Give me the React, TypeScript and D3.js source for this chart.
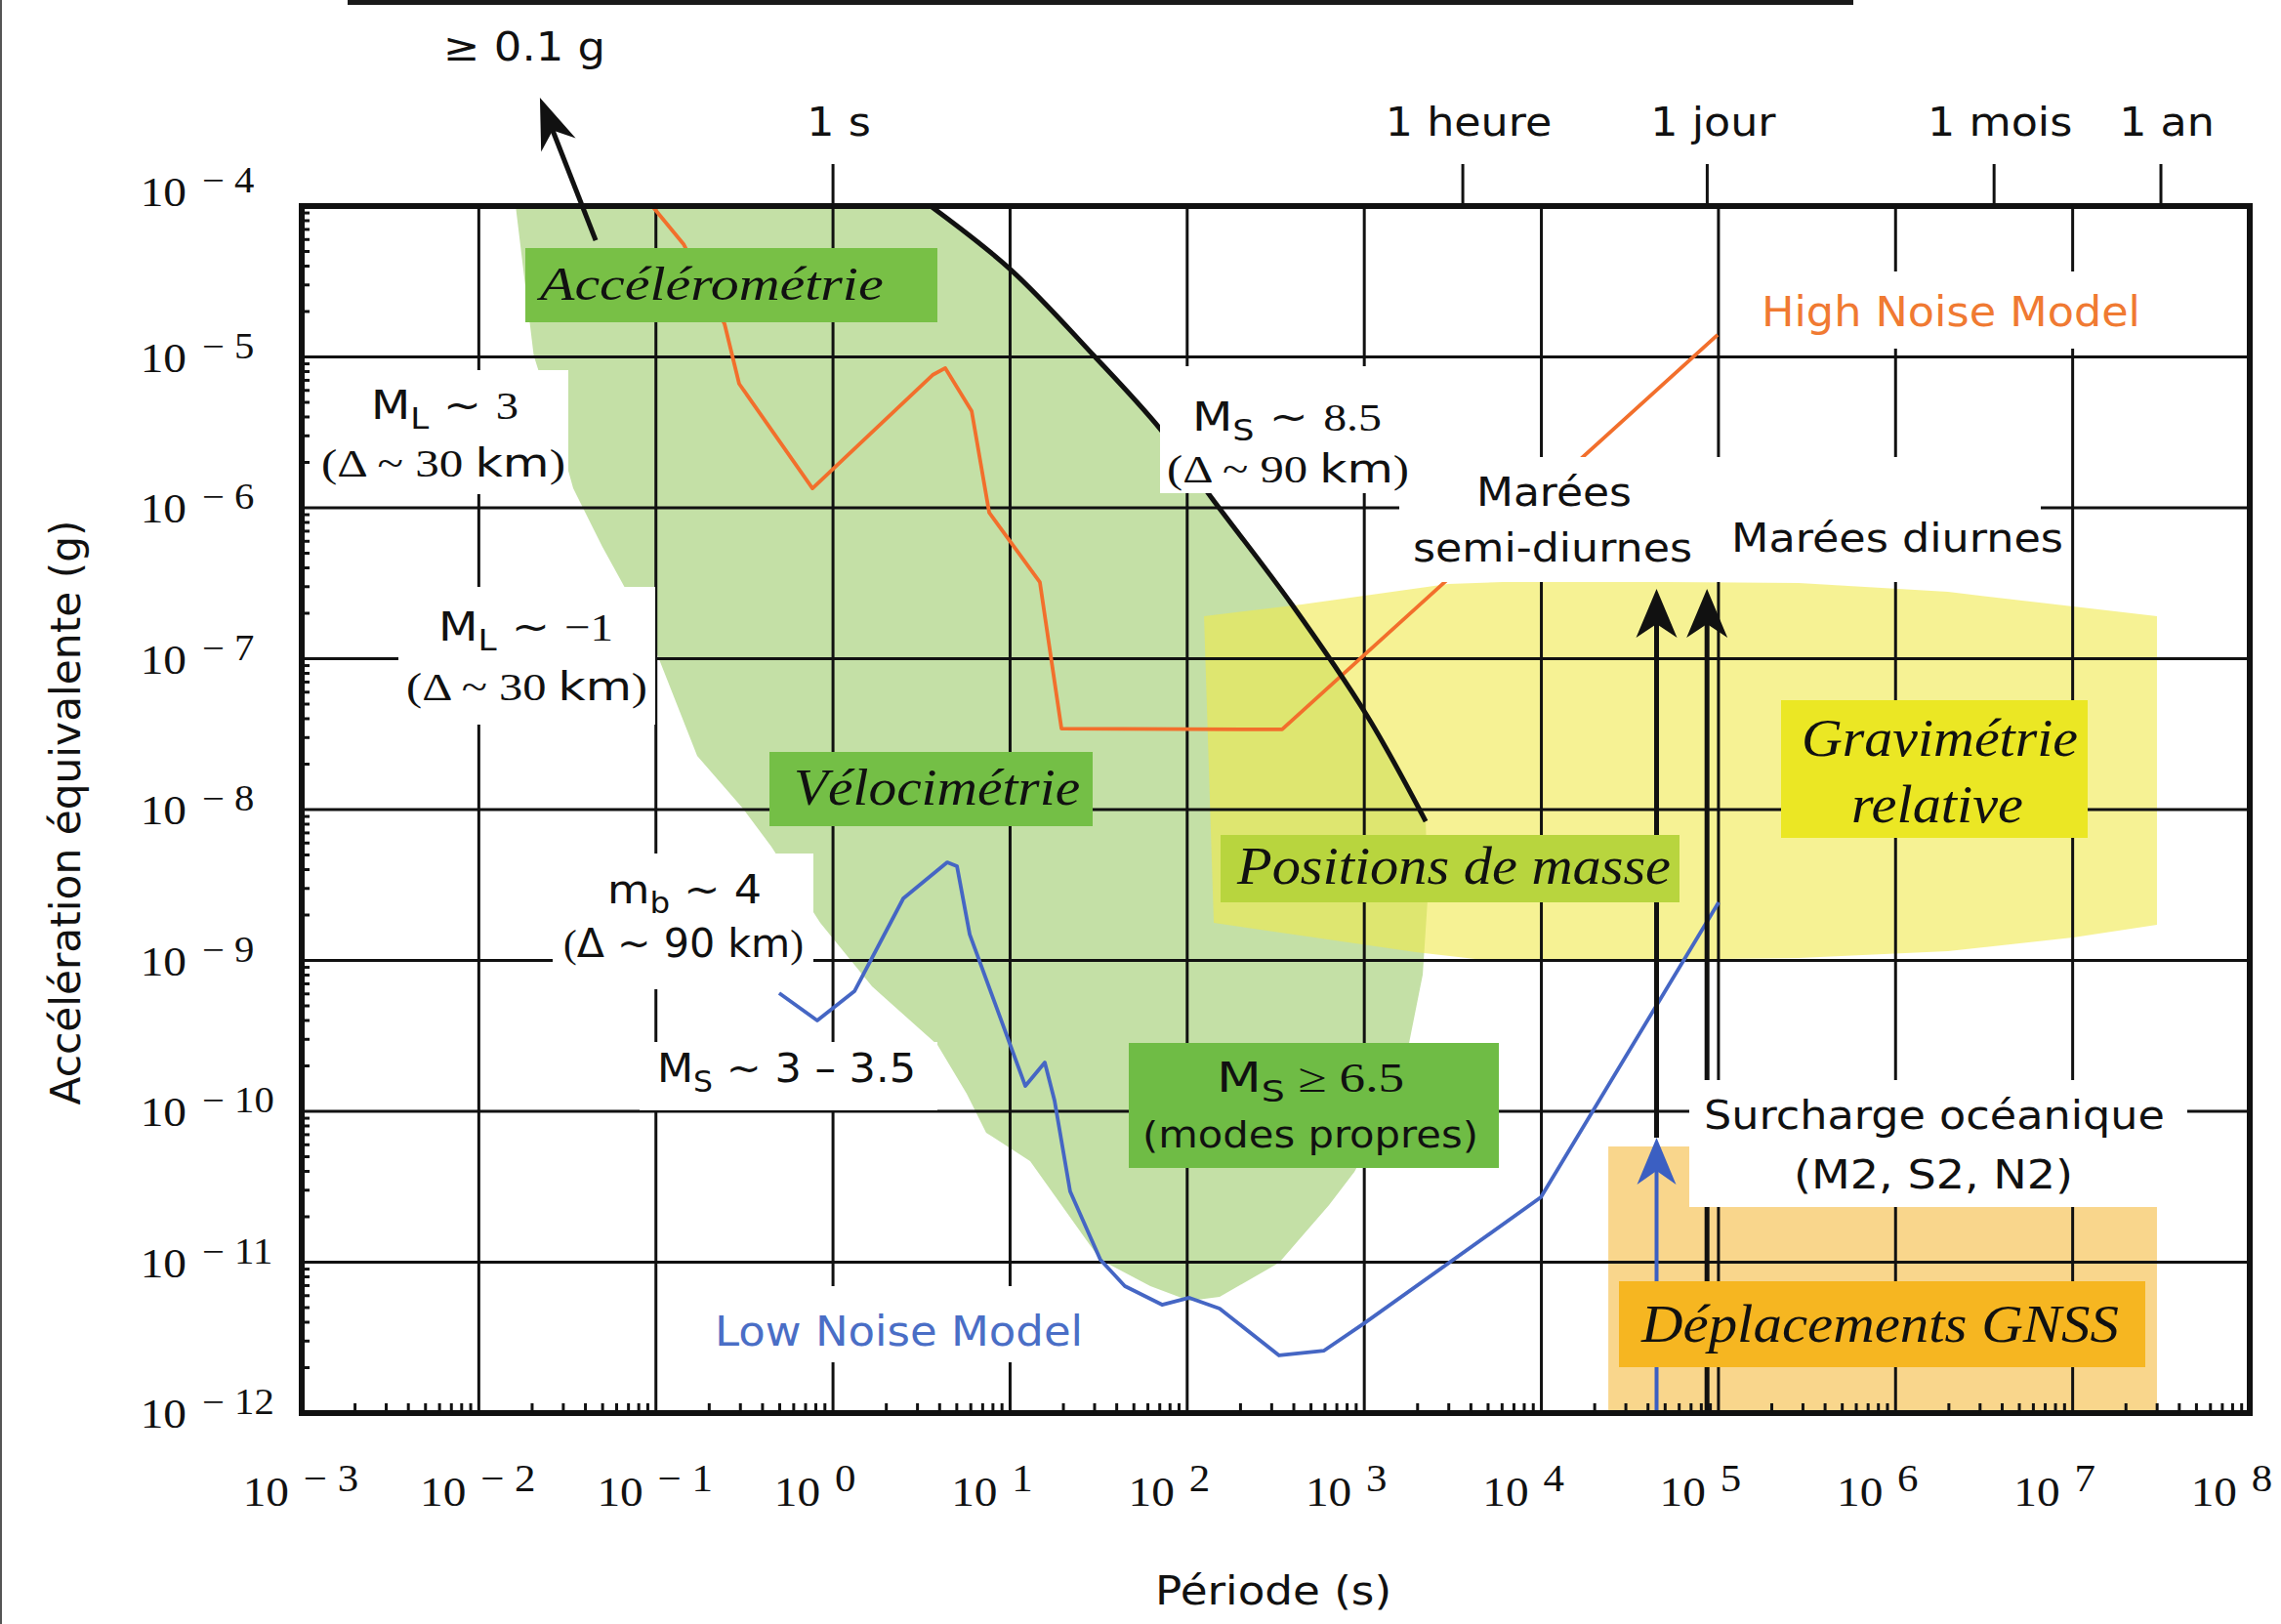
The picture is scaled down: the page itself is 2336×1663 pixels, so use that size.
import React, { useLayoutEffect, useRef, useState } from 'react';
import * as d3 from 'd3';

const W = 2336;
const H = 1663;
const SANS = "'DejaVu Sans', Verdana, sans-serif";
const SERIF = "'Liberation Serif', 'Times New Roman', serif";

// ---------- axes ----------
const periodDomain = [1e-3, 1e8];
const accelDomain = [1e-12, 1e-4];
const periodExponents = [-3, -2, -1, 0, 1, 2, 3, 4, 5, 6, 7, 8];
const accelExponents = [-4, -5, -6, -7, -8, -9, -10, -11, -12];
const topTickLabels = ['1 s', '1 heure', '1 jour', '1 mois', '1 an'];
const topTickPeriods = [1, 3600, 86400, 3.6e6, 3.15e7];

// ---------- data : [log10 période (s), log10 accélération (g)] ----------
const highNoiseModel = [
  [-1.021, -4.0], [-0.844, -4.252], [-0.612, -4.783], [-0.53, -5.178], [-0.116, -5.871],
  [0.562, -5.12], [0.634, -5.074], [0.783, -5.359], [0.882, -6.032], [1.168, -6.492],
  [1.29, -7.463], [2.536, -7.469], [4.995, -4.854],
];
const lowNoiseModel = [
  [-0.304, -9.217], [-0.089, -9.398], [0.121, -9.204], [0.397, -8.589], [0.645, -8.35],
  [0.7, -8.375], [0.772, -8.828], [1.086, -9.832], [1.196, -9.676], [1.251, -9.929],
  [1.339, -10.531], [1.51, -10.984], [1.648, -11.159], [1.858, -11.282], [2.012, -11.236],
  [2.183, -11.307], [2.519, -11.618], [2.773, -11.586], [2.999, -11.405], [3.997, -10.57],
  [5.001, -8.615],
];
const ms85Curve = [
  [0.551, -4.0], [1.003, -4.421], [1.472, -4.99], [1.847, -5.476], [2.155, -5.961],
  [2.591, -6.641], [3.016, -7.379], [3.347, -8.078],
];
const seismometryRegion = [
  [-1.792, -4.0], [0.551, -4.0], [1.003, -4.421], [1.472, -4.99], [1.847, -5.476],
  [2.155, -5.961], [2.591, -6.641], [3.016, -7.379], [3.347, -8.078], [3.358, -8.589],
  [3.33, -9.094], [3.253, -9.547], [3.126, -10.013], [2.944, -10.401], [2.801, -10.621],
  [2.519, -11.003], [2.183, -11.23], [2.012, -11.256], [1.792, -11.159], [1.51, -10.984],
  [1.113, -10.33], [0.865, -10.142], [0.755, -9.883], [0.59, -9.56], [0.22, -9.172],
  [-0.072, -8.751], [-0.348, -8.246], [-0.513, -7.987], [-0.767, -7.644], [-0.993, -6.971],
  [-1.12, -6.647], [-1.302, -6.259], [-1.467, -5.871], [-1.575, -5.417], [-1.69, -4.99],
];
const gravimetryRegion = [
  [2.095, -6.718], [2.646, -6.641], [3.473, -6.505], [4.118, -6.479], [4.692, -6.492],
  [5.453, -6.498], [6.296, -6.557], [7.002, -6.654], [7.476, -6.718], [7.476, -8.764],
  [7.002, -8.848], [6.296, -8.939], [5.453, -8.984], [4.609, -8.997], [3.766, -9.01],
  [3.291, -8.945], [2.15, -8.751],
];
const gnssRegion = [[4.378, -10.233], [7.476, -10.233], [7.476, -12], [4.378, -12]];
const tidePeriods = [44712, 86164]; // semi-diurne, diurne
const tideArrowTop = -6.537;
const oceanLoadingTop = -10.175;
const strongMotionArrow = [[-1.34, -4.227], [-1.655, -3.282]];

// ---------- scales ----------
const xS = d3.scaleLog().domain(periodDomain).range([309, 2304]);
const yS = d3.scaleLog().domain(accelDomain).range([1447, 211]);
const px = (p: number[]) => xS(Math.pow(10, p[0]));
const py = (p: number[]) => yS(Math.pow(10, p[1]));
const lineGen = d3.line<number[]>().x(px).y(py);
const smoothGen = d3.line<number[]>().x(px).y(py).curve(d3.curveCatmullRom.alpha(0.5));
const areaGen = d3.line<number[]>().x(px).y(py).curve(d3.curveLinearClosed);

function head(tx: number, ty: number, ang: number, L = 50, hw = 20, n = 36) {
  const c = Math.cos(ang), s = Math.sin(ang);
  const pt = (u: number, v: number) => `${tx + u * c - v * s},${ty + u * s + v * c}`;
  return `M${tx},${ty}L${pt(-L, -hw)}L${pt(-n, 0)}L${pt(-L, hw)}Z`;
}

function FitText({ x, y, w, size, family = SANS, italic = false, fill = '#111', anchor = 'start', children }: any) {
  const ref = useRef<SVGTextElement>(null);
  const [s, setS] = useState(1);
  useLayoutEffect(() => {
    const measure = () => {
      const el = ref.current;
      if (!el) return;
      const bw = el.getBBox().width;
      if (bw > 0) setS(w / bw);
    };
    measure();
    const f = (document as any).fonts;
    if (f && f.ready) f.ready.then(measure);
  }, [w]);
  return (
    <g transform={`translate(${x},${y}) scale(${s},1)`}>
      <text ref={ref} textAnchor={anchor} fontSize={size} fontFamily={family}
        fontStyle={italic ? 'italic' : 'normal'} fill={fill}>{children}</text>
    </g>
  );
}

const Sub = ({ t, size, shift = 10 }: any) => (
  <tspan dy={shift} fontSize={size}>{t}</tspan>
);

export default function App() {
  const L = 309, R = 2304, T = 211, B = 1447;
  const minorX: number[] = [];
  for (let e = -3; e < 8; e++) for (let k = 2; k <= 9; k++) minorX.push(k * Math.pow(10, e));
  const minorY: number[] = [];
  for (let e = -12; e < -4; e++) for (let k = 2; k <= 9; k++) minorY.push(k * Math.pow(10, e));

  const box = (x0: number, y0: number, x1: number, y1: number, fill = '#fff') => (
    <rect x={x0} y={y0} width={x1 - x0} height={y1 - y0} fill={fill} />
  );

  const sa = strongMotionArrow;
  const sax0 = px(sa[0]), say0 = py(sa[0]), sax1 = px(sa[1]), say1 = py(sa[1]);
  const sang = Math.atan2(say1 - say0, sax1 - sax0);
  const fs = 41; // small annotation size
  const sub = 30;

  return (
    <svg width={W} height={H} style={{ position: 'absolute', left: 0, top: 0, background: '#fff' }}
      xmlns="http://www.w3.org/2000/svg">
      <rect x={0} y={0} width={W} height={H} fill="#fff" />
      <rect x={0} y={0} width={2} height={H} fill="#555" />
      <rect x={356} y={0} width={1542} height={5} fill="#1a1a1a" />

      {/* regions */}
      <path d={areaGen(seismometryRegion) || ''} fill="#c4e0a6" />
      <path d={areaGen(gnssRegion) || ''} fill="#f9d68c" />
      <path d={areaGen(gravimetryRegion) || ''} fill="#f0ea4c" fillOpacity={0.6} />

      {/* grid */}
      {periodExponents.slice(1, -1).map((e) => (
        <line key={'gx' + e} x1={xS(Math.pow(10, e))} x2={xS(Math.pow(10, e))} y1={T} y2={B} stroke="#111" strokeWidth={3} />
      ))}
      {accelExponents.slice(1, -1).map((e) => (
        <line key={'gy' + e} x1={L} x2={R} y1={yS(Math.pow(10, e))} y2={yS(Math.pow(10, e))} stroke="#111" strokeWidth={3} />
      ))}

      {/* curves */}
      <path d={lineGen(highNoiseModel) || ''} fill="none" stroke="#f26f2c" strokeWidth={3.8} strokeLinejoin="round" />
      <path d={lineGen(lowNoiseModel) || ''} fill="none" stroke="#4566c4" strokeWidth={3.8} strokeLinejoin="round" />
      <path d={smoothGen(ms85Curve) || ''} fill="none" stroke="#111" strokeWidth={5} />

      {/* tide arrows */}
      {tidePeriods.map((p, i) => {
        const x = xS(p);
        const tip = yS(Math.pow(10, tideArrowTop));
        const y0 = i === 0 ? yS(Math.pow(10, oceanLoadingTop)) : B;
        return (
          <g key={'ta' + i}>
            <line x1={x} x2={x} y1={y0} y2={tip + 34} stroke="#111" strokeWidth={5} />
            <path d={head(x, tip, -Math.PI / 2, 50, 21, 36)} fill="#111" />
          </g>
        );
      })}
      {(() => {
        const x = xS(tidePeriods[0]);
        const tip = yS(Math.pow(10, oceanLoadingTop));
        return (
          <g>
            <line x1={x} x2={x} y1={B} y2={tip + 34} stroke="#3b5fc2" strokeWidth={4} />
            <path d={head(x, tip, -Math.PI / 2, 48, 20, 34)} fill="#3b5fc2" />
          </g>
        );
      })()}
      <line x1={sax0} y1={say0} x2={sax1 - 34 * Math.cos(sang)} y2={say1 - 34 * Math.sin(sang)} stroke="#111" strokeWidth={5} />
      <path d={head(sax1, say1, sang, 52, 19, 36)} fill="#111" />

      {/* white label backgrounds */}
      {box(316, 379, 582, 506)}
      {box(408, 601, 671, 742)}
      {box(566, 874, 833, 1013)}
      {box(655, 1067, 960, 1137)}
      {box(1188, 375, 1445, 505)}
      {box(1433, 468, 2090, 596)}
      {box(1785, 278, 2205, 357)}
      {box(705, 1317, 1125, 1395)}
      {box(1730, 1106, 2240, 1236)}

      {/* coloured label boxes */}
      {box(538, 254, 960, 330, '#78c046')}
      {box(788, 770, 1119, 846, '#74bf46')}
      {box(1156, 1068, 1535, 1196, '#6fbc45')}
      {box(1250, 855, 1720, 924, '#b8d53e')}
      {box(1824, 717, 2138, 858, '#ebe724')}
      {box(1658, 1312, 2197, 1400, '#f6b621')}

      {/* frame and minor ticks */}
      <rect x={L} y={T} width={R - L} height={B - T} fill="none" stroke="#111" strokeWidth={6} />
      {minorX.map((v, i) => (
        <line key={'mx' + i} x1={xS(v)} x2={xS(v)} y1={B} y2={B - 10} stroke="#111" strokeWidth={3} />
      ))}
      {minorY.map((v, i) => (
        <line key={'my' + i} x1={L} x2={L + 8} y1={yS(v)} y2={yS(v)} stroke="#111" strokeWidth={3} />
      ))}

      {/* top time ticks */}
      {topTickPeriods.map((p, i) => (
        <g key={'tt' + i}>
          <line x1={xS(p)} x2={xS(p)} y1={168} y2={T} stroke="#111" strokeWidth={3} />
          <g transform={`translate(${xS(p) + 6},139) scale(1.11,1)`}>
            <text textAnchor="middle" fontSize={40} fontFamily={SANS} fill="#111">{topTickLabels[i]}</text>
          </g>
        </g>
      ))}

      {/* y tick labels */}
      {accelExponents.map((e, i) => {
        const base = yS(Math.pow(10, e)) + (i === 0 ? 0 : 15);
        return (
          <g key={'yl' + e} transform={`translate(191,${base}) scale(1.1,1)`} fill="#111" fontFamily={SERIF}>
            <text textAnchor="end" fontSize={43}>10</text>
            <text x={14.5} y={-14} fontSize={37}>{`\u2212 ${-e}`}</text>
          </g>
        );
      })}
      {/* x tick labels */}
      {periodExponents.map((e) => {
        const x = xS(Math.pow(10, e));
        return (
          <g key={'xl' + e} transform={`translate(${x - 13},1542) scale(1.1,1)`} fill="#111" fontFamily={SERIF}>
            <text textAnchor="end" fontSize={43}>10</text>
            <text x={13.5} y={-15} fontSize={39}>{e < 0 ? `\u2212 ${-e}` : `${e}`}</text>
          </g>
        );
      })}

      {/* axis titles */}
      <FitText x={1183} y={1643} w={242} size={40}>Période (s)</FitText>
      <g transform="translate(82,832) rotate(-90)">
        <FitText x={0} y={0} w={599} size={42} anchor="middle">Accélération équivalente (g)</FitText>
      </g>

      {/* annotations */}
      <FitText x={454} y={62} w={166} size={40}>≥ 0.1 g</FitText>

      <FitText x={380} y={429} w={151} size={fs}>M<Sub t="L" size={sub} /><tspan dy={-10}> ~ </tspan><tspan fontFamily={SERIF}>3</tspan></FitText>
      <FitText x={329} y={488} w={250} size={fs}><tspan fontFamily={SERIF}>(Δ ~ 30 </tspan>km<tspan fontFamily={SERIF}>)</tspan></FitText>

      <FitText x={449} y={656} w={179} size={fs}>M<Sub t="L" size={sub} /><tspan dy={-10}> ~ </tspan><tspan fontFamily={SERIF}>−1</tspan></FitText>
      <FitText x={416} y={717} w={247} size={fs}><tspan fontFamily={SERIF}>(Δ ~ 30 </tspan>km<tspan fontFamily={SERIF}>)</tspan></FitText>

      <FitText x={622} y={925} w={158} size={fs}>m<Sub t="b" size={sub} /><tspan dy={-10}> ~ 4</tspan></FitText>
      <FitText x={577} y={980} w={246} size={fs}><tspan fontFamily={SERIF}>(</tspan>Δ ~ 90 km<tspan fontFamily={SERIF}>)</tspan></FitText>

      <FitText x={673} y={1108} w={265} size={fs}>M<Sub t="S" size={sub} /><tspan dy={-10}> ~ 3 – 3.5</tspan></FitText>

      <FitText x={1221} y={441} w={194} size={fs}>M<Sub t="S" size={sub} /><tspan dy={-10}> ~ </tspan><tspan fontFamily={SERIF}>8.5</tspan></FitText>
      <FitText x={1195} y={494} w={248} size={fs}><tspan fontFamily={SERIF}>(Δ ~ 90 </tspan>km<tspan fontFamily={SERIF}>)</tspan></FitText>

      <FitText x={1512} y={518} w={159} size={40}>Marées</FitText>
      <FitText x={1447} y={575} w={286} size={40}>semi-diurnes</FitText>
      <FitText x={1773} y={565} w={340} size={40}>Marées diurnes</FitText>

      <FitText x={1804} y={334} w={388} size={42} fill="#f07a32">High Noise Model</FitText>
      <FitText x={732} y={1378} w={377} size={42} fill="#4a6ec6">Low Noise Model</FitText>

      <FitText x={1745} y={1156} w={472} size={40}>Surcharge océanique</FitText>
      <FitText x={1837} y={1217} w={286} size={40}>(M2, S2, N2)</FitText>

      <FitText x={1246} y={1118} w={192} size={42}>M<Sub t="S" size={30} shift={10} /><tspan dy={-10} fontFamily={SERIF}> ≥ 6.5</tspan></FitText>
      <FitText x={1170} y={1175} w={344} size={38}>(modes propres)</FitText>

      <FitText x={553} y={307} w={355} size={48} family={SERIF} italic>Accélérométrie</FitText>
      <FitText x={813} y={824} w={293} size={52} family={SERIF} italic>Vélocimétrie</FitText>
      <FitText x={1267} y={905} w={445} size={54} family={SERIF} italic>Positions de masse</FitText>
      <FitText x={1845} y={774} w={283} size={54} family={SERIF} italic>Gravimétrie</FitText>
      <FitText x={1896} y={842} w={176} size={54} family={SERIF} italic>relative</FitText>
      <FitText x={1681} y={1374} w={490} size={54} family={SERIF} italic>Déplacements GNSS</FitText>
    </svg>
  );
}
